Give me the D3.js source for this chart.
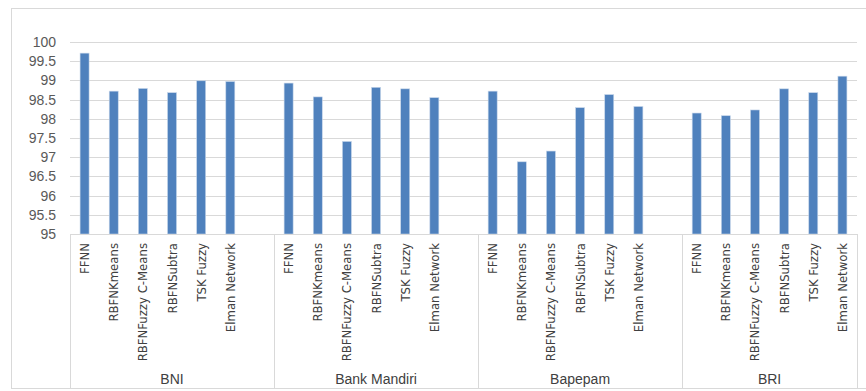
<!DOCTYPE html>
<html>
  <head>
    <meta charset="utf-8">
    <title>Accuracy by method</title>
    <script type="text/javascript" src="https://d3js.org/d3.v7.min.js"></script>
    <style>
      body { margin: 0; background: #fff; }
    </style>
  </head>
  <body>
    <script>

    var groups = ["BNI", "Bank Mandiri", "Bapepam", "BRI"];
    var methods = ["FFNN", "RBFNKmeans", "RBFNFuzzy C-Means", "RBFNSubtra", "TSK Fuzzy", "Elman Network"];
    var bniValues = [99.71, 98.72, 98.79, 98.68, 98.99, 98.97];
    var mandiriValues = [98.93, 98.57, 97.41, 98.82, 98.78, 98.55];
    var bapepamValues = [98.72, 96.88, 97.16, 98.29, 98.63, 98.32];
    var briValues = [98.15, 98.08, 98.23, 98.78, 98.68, 99.11];
    var yTicks = [95, 95.5, 96, 96.5, 97, 97.5, 98, 98.5, 99, 99.5, 100];

    var seriesValues = [bniValues, mandiriValues, bapepamValues, briValues];

    // flat list of category slots; an empty slot sits after each group but the last
    var slots = [];
    groups.forEach(function(g, gi) {
      methods.forEach(function(m, mi) {
        slots.push({ key: gi + "-" + mi, group: g, method: m, value: seriesValues[gi][mi] });
      });
      if (gi < groups.length - 1) slots.push({ key: gi + "-blank", group: g, method: "", value: null });
    });

    var width = 866, height = 391;
    var plotLeft = 70, plotRight = 857, plotTop = 42, plotBottom = 234;

    var svg = d3.select("body").append("svg")
                .attr("width", width)
                .attr("height", height);

    // chart border
    svg.append("rect")
       .attr("x", 11.5).attr("y", 8.5)
       .attr("width", 870).attr("height", 380)
       .attr("fill", "none")
       .attr("stroke", "#d9d9d9");

    var x = d3.scaleBand()
              .domain(slots.map(function(d) { return d.key; }))
              .range([plotLeft, plotRight]);

    var y = d3.scaleLinear()
              .domain([95, 100])
              .range([plotBottom, plotTop]);

    // gridlines
    svg.append("g")
       .selectAll("line")
       .data(yTicks)
       .enter().append("line")
         .attr("x1", plotLeft).attr("x2", plotRight)
         .attr("y1", function(d) { return Math.round(y(d)) + 0.5; })
         .attr("y2", function(d) { return Math.round(y(d)) + 0.5; })
         .attr("stroke", "#d9d9d9");

    // y axis labels
    var yAxis = d3.axisLeft(y).tickValues(yTicks).tickSize(0).tickPadding(14)
                  .tickFormat(d3.format(""));
    var yg = svg.append("g")
                .attr("transform", "translate(" + plotLeft + ",0)")
                .call(yAxis);
    yg.select(".domain").remove();
    yg.selectAll("text")
      .attr("font-family", "Liberation Sans, Arial, sans-serif")
      .attr("font-size", 14)
      .attr("fill", "#595959");

    // bars
    var barW = 9;
    svg.append("g")
       .selectAll("rect")
       .data(slots.filter(function(d) { return d.value !== null; }))
       .enter().append("rect")
         .attr("x", function(d) { return x(d.key) + x.bandwidth() / 2 - barW / 2; })
         .attr("y", function(d) { return y(d.value); })
         .attr("width", barW)
         .attr("height", function(d) { return y(95) - y(d.value); })
         .attr("fill", "#4f81bd")
         .attr("stroke", "#c6d6ea")
         .attr("stroke-width", 0.6);

    // category axis line
    svg.append("line")
       .attr("x1", plotLeft).attr("x2", plotRight)
       .attr("y1", plotBottom + 0.5).attr("y2", plotBottom + 0.5)
       .attr("stroke", "#d9d9d9");

    // method labels (rotated)
    svg.append("g")
       .selectAll("text")
       .data(slots.filter(function(d) { return d.method !== ""; }))
       .enter().append("text")
         .attr("transform", function(d) {
           return "translate(" + (x(d.key) + x.bandwidth() / 2 + 4.5) + ",243) rotate(-90)";
         })
         .attr("text-anchor", "end")
         .attr("font-family", "Liberation Sans Narrow, DejaVu Sans Condensed, sans-serif")
         .attr("font-size", 13)
         .attr("fill", "#404040")
         .text(function(d) { return d.method; });

    // group separators and group labels
    var bounds = groups.map(function(g) {
      var inGroup = slots.filter(function(d) { return d.group === g; });
      var x0 = x(inGroup[0].key);
      var x1 = x(inGroup[inGroup.length - 1].key) + x.bandwidth();
      return { group: g, x0: x0, x1: x1 };
    });

    var sepX = [plotLeft].concat(bounds.map(function(b) { return b.x1; }));
    svg.append("g")
       .selectAll("line")
       .data(sepX)
       .enter().append("line")
         .attr("x1", function(d) { return Math.round(d) + 0.5; })
         .attr("x2", function(d) { return Math.round(d) + 0.5; })
         .attr("y1", plotBottom).attr("y2", 388)
         .attr("stroke", "#d9d9d9");

    svg.append("g")
       .selectAll("text")
       .data(bounds)
       .enter().append("text")
         .attr("x", function(d) { return (d.x0 + d.x1) / 2; })
         .attr("y", 384)
         .attr("text-anchor", "middle")
         .attr("font-family", "Liberation Sans, Arial, sans-serif")
         .attr("font-size", 14)
         .attr("fill", "#404040")
         .text(function(d) { return d.group; });

    </script>
  </body>
</html>
